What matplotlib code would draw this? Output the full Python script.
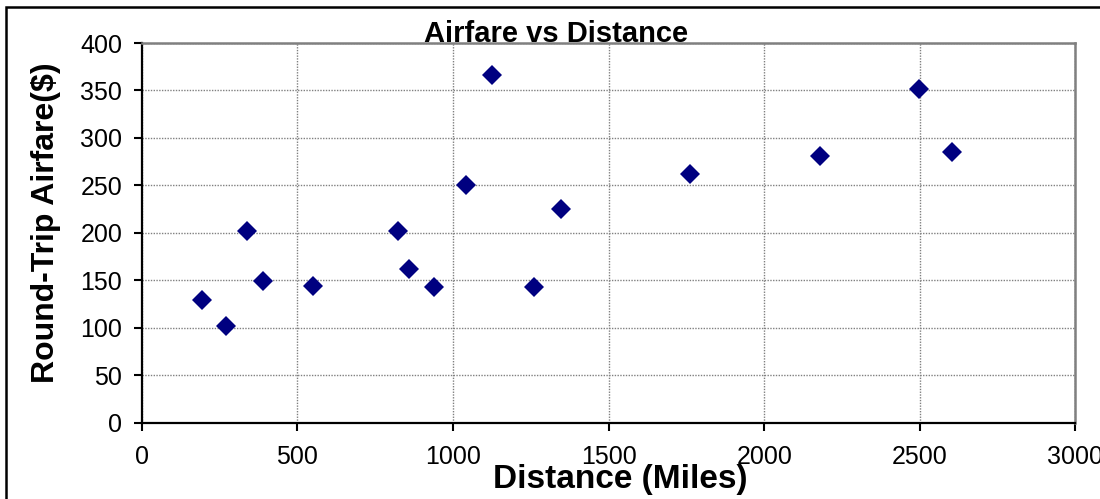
import matplotlib
matplotlib.use("Agg")
import matplotlib.pyplot as plt
from matplotlib.patches import Rectangle

plt.rcParams['font.family'] = ['Liberation Sans', 'DejaVu Sans']

# distance (miles) vs round-trip airfare ($)
distance = [193, 270, 339, 391, 552, 822, 860, 938, 1043, 1125, 1259, 1348, 1762, 2180, 2497, 2604]
airfare = [129, 102, 202, 149, 144, 202, 162, 143, 250, 366, 143, 225, 262, 281, 352, 285]

x_ticks = [0, 500, 1000, 1500, 2000, 2500, 3000]
y_ticks = [0, 50, 100, 150, 200, 250, 300, 350, 400]

fig = plt.figure(figsize=(11, 4.99), dpi=100)
ax = fig.add_axes([0.1288, 0.1529, 0.8489, 0.7609])

ax.plot(distance, airfare, linestyle='none', marker='D', markersize=9.8,
        color='#000080', markeredgewidth=0)

ax.set_xlim(0, 3000)
ax.set_ylim(0, 400)
ax.set_xticks(x_ticks)
ax.set_yticks(y_ticks)
ax.grid(True, color='#808080', linestyle=(0, (1, 1)), linewidth=1.0)
ax.set_axisbelow(True)

for side in ['top', 'right']:
    ax.spines[side].set_color('#808080')
    ax.spines[side].set_linewidth(1.8)
for side in ['left', 'bottom']:
    ax.spines[side].set_color('black')
    ax.spines[side].set_linewidth(1.6)

ax.tick_params(axis='both', direction='out', length=6, width=1.5, labelsize=18)
ax.tick_params(axis='x', pad=10)
ax.tick_params(axis='y', pad=8)

fig.text(0.5055, 0.9164, 'Airfare vs Distance', ha='center', va='baseline',
         fontsize=21, fontweight='bold')
fig.text(0.5636, 0.022, 'Distance (Miles)', ha='center', va='baseline',
         fontsize=24, fontweight='bold')
fig.text(0.0418, 0.553, 'Round-Trip Airfare($)', ha='center', va='center',
         rotation=90, fontsize=23, fontweight='bold')

# outer chart frame, runs off the right and bottom edges
fig.patches.append(Rectangle((6 / 1100, -0.05), 1.1, 1 - 7 / 499 + 0.05,
                             transform=fig.transFigure, fill=False,
                             edgecolor='black', linewidth=1.8))

fig.savefig('out.png', dpi=100)
